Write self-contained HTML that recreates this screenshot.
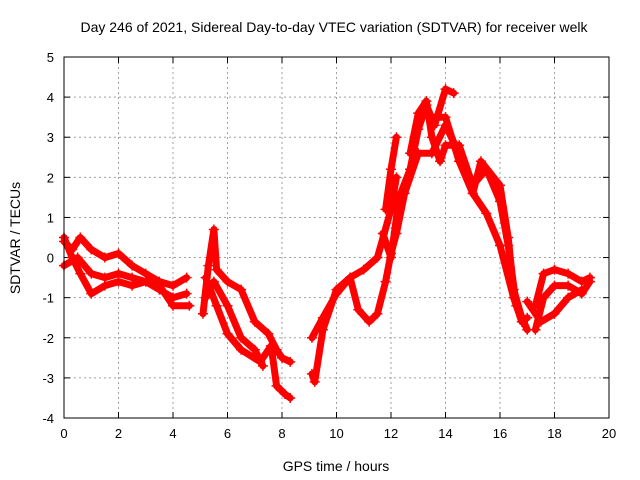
<!DOCTYPE html>
<html><head><meta charset="utf-8"><style>
body{margin:0;background:#fff}
svg{display:block;font-family:"Liberation Sans",sans-serif}
</style></head><body>
<svg id="chart" width="640" height="480" viewBox="0 0 640 480">
<rect width="640" height="480" fill="#fff"/>
<text x="334" y="32" font-size="14" text-anchor="middle">Day 246 of 2021, Sidereal Day-to-day VTEC variation (SDTVAR) for receiver welk</text>
<text x="336" y="471" font-size="14" text-anchor="middle">GPS time / hours</text>
<text transform="translate(20,238) rotate(-90)" font-size="14" text-anchor="middle">SDTVAR / TECUs</text>
<g id="grid"></g><g id="ticks"></g><g id="marks"></g>
<rect x="64" y="57" width="545" height="361" fill="none" stroke="#000" stroke-width="1"/>
</svg>
<script>
const xTicks=[0,2,4,6,8,10,12,14,16,18,20];
const yTicks=[-4,-3,-2,-1,0,1,2,3,4,5];
const tA_t=[0,0.3,0.6,1,1.5,2,2.5,3,3.5,4,4.5];
const tA_v=[0.4,0.2,0.5,0.2,0,0.1,-0.2,-0.4,-0.6,-0.7,-0.5];
const tB_t=[0,0.5,1,1.5,2,2.5,3,3.5,4,4.5];
const tB_v=[-0.2,0,-0.4,-0.5,-0.4,-0.5,-0.6,-0.8,-1.0,-0.9];
const tC_t=[0,0.3,0.6,1,1.5,2,2.5,3,3.5,4,4.6];
const tC_v=[0.5,0,-0.4,-0.9,-0.7,-0.6,-0.7,-0.6,-0.7,-1.2,-1.2];
const tD_t=[5.1,5.3,5.5,5.6,6,6.5,7,7.5,7.8,8,8.3];
const tD_v=[-1.4,-0.2,0.7,-0.3,-0.6,-0.8,-1.6,-1.9,-2.3,-2.5,-2.6];
const tE_t=[5.2,5.5,6,6.5,7,7.3];
const tE_v=[-1,-0.6,-1.2,-2,-2.3,-2.7];
const tF_t=[5.2,5.6,6,6.5,7.2,7.6,7.8,8.1,8.3];
const tF_v=[-0.5,-1.2,-1.9,-2.3,-2.6,-2.2,-3.2,-3.4,-3.5];
const tG_t=[9.1,9.2,9.5,10,10.5,11,11.5,12,12.2];
const tG_v=[-2.9,-3.1,-1.8,-0.8,-0.5,-0.3,0,1.2,2.0];
const tH_t=[9.1,9.5,10,10.5,10.8,11.2,11.5,11.8,12,12.2,12.5,13,13.5,14,14.5,15,15.5,16,16.5,16.8,17];
const tH_v=[-2.0,-1.5,-0.9,-0.5,-1.3,-1.6,-1.4,-0.6,0.1,0.6,1.6,2.6,2.6,3.3,2.6,1.6,1.1,0.3,-1,-1.6,-1.5];
const tI_t=[11.7,12,12.3,12.7,13,13.3,13.6,14,14.3];
const tI_v=[0.6,0,1.5,2.2,3.2,3.8,3.3,4.2,4.1];
const tJ_t=[11.8,12,12.2];
const tJ_v=[1.2,2.2,3.0];
const tK_t=[12.7,13,13.3,13.5,13.8,14,14.5,15,15.5,16,16.3,16.6,17];
const tK_v=[2.6,3.6,3.9,3.0,2.4,2.8,2.8,1.8,2.2,1.4,0.3,-1.2,-1.8];
const tL_t=[13.5,14,14.5,15,15.3,16,16.3,16.5,16.8];
const tL_v=[3.5,3.5,2.4,1.6,2.4,1.8,0.5,-0.8,-1.5];
const tM_t=[17.3,17.6,18,18.5,19,19.3];
const tM_v=[-1.2,-0.4,-0.3,-0.4,-0.6,-0.5];
const tN_t=[17.3,17.6,18,18.5,19,19.3];
const tN_v=[-1.8,-1.0,-0.7,-0.7,-0.9,-0.6];
const tO_t=[17,17.5,18,18.5,19];
const tO_v=[-1.1,-1.6,-1.4,-1.0,-0.8];
const tracks=[[tA_t,tA_v],[tB_t,tB_v],[tC_t,tC_v],[tD_t,tD_v],[tE_t,tE_v],[tF_t,tF_v],[tG_t,tG_v],[tH_t,tH_v],[tI_t,tI_v],[tJ_t,tJ_v],[tK_t,tK_v],[tL_t,tL_v],[tM_t,tM_v],[tN_t,tN_v],[tO_t,tO_v]];
const X0=64,X1=609,Y0=418,Y1=57;
function xs(h){return X0+(h-0)/(20-0)*(X1-X0);}
function ys(v){return Y0-(v+4)/(5+4)*(Y0-Y1);}
const NS="http://www.w3.org/2000/svg";
const grid=document.getElementById('grid'),ticks=document.getElementById('ticks'),marks=document.getElementById('marks');
function mk(tag,at,parent){const e=document.createElementNS(NS,tag);for(const k in at)e.setAttribute(k,at[k]);parent.appendChild(e);return e;}
xTicks.forEach(t=>{
 const x=xs(t);
 if(t>0&&t<20){const g=mk('line',{x1:x,x2:x,y1:Y1,y2:Y0,stroke:'#a0a0a0','stroke-dasharray':'2,3','stroke-width':1},grid);
 
 }
 mk('line',{x1:x,x2:x,y1:Y0,y2:Y0-6,stroke:'#000'},ticks);
 mk('line',{x1:x,x2:x,y1:Y1,y2:Y1+6,stroke:'#000'},ticks);
 const l=mk('text',{x:x,y:Y0+20,'font-size':13,'text-anchor':'middle'},ticks);l.textContent=t;
 
 
});
yTicks.forEach(t=>{
 const y=ys(t);
 if(t>-4&&t<5){const g=mk('line',{x1:X0,x2:X1,y1:y,y2:y,stroke:'#a0a0a0','stroke-dasharray':'2,3','stroke-width':1},grid);
 
 }
 mk('line',{x1:X0,x2:X0+6,y1:y,y2:y,stroke:'#000'},ticks);
 mk('line',{x1:X1,x2:X1-6,y1:y,y2:y,stroke:'#000'},ticks);
 const l=mk('text',{x:X0-10,y:y+5,'font-size':13,'text-anchor':'end'},ticks);l.textContent=t;
 
 
});
tracks.forEach(([T,V])=>{
 const pts=T.map((t,i)=>xs(t).toFixed(1)+','+ys(V[i]).toFixed(1)).join(' ');
 const p=mk('polyline',{points:pts,fill:'none',stroke:'#ff0000','stroke-width':7,'stroke-linejoin':'round','stroke-linecap':'round'},marks);
 
 
 T.forEach((t,i)=>{
  const x=xs(t),y=ys(V[i]);
  const m=mk('path',{d:`M${x-5},${y}H${x+5}M${x},${y-5}V${y+5}`,stroke:'#ff0000','stroke-width':1.5},marks);
  
  
 });
});
</script>
</body></html>
